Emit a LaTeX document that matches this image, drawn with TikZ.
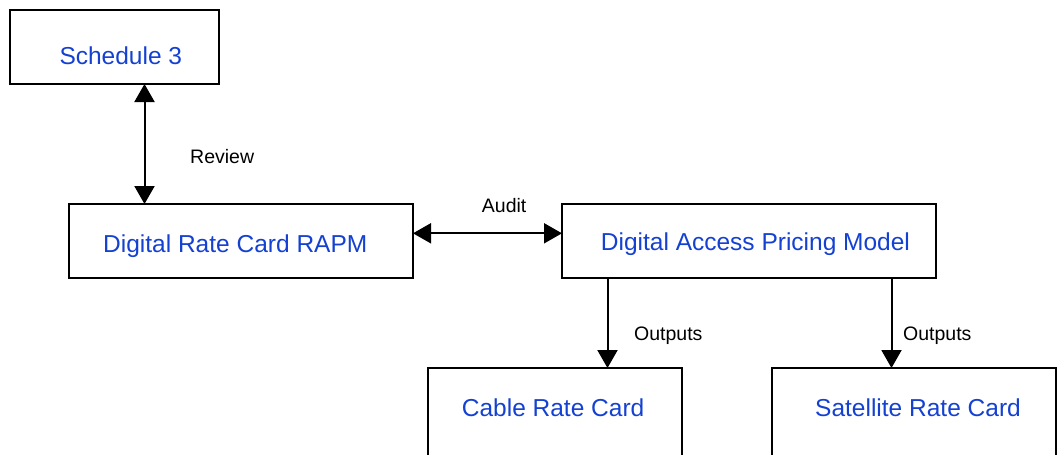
\documentclass[tikz,border=0pt]{standalone}
\usepackage{fontspec}
\setmainfont{Liberation Sans}
\usetikzlibrary{arrows.meta}
\definecolor{boxtext}{RGB}{20,65,210}
\tikzset{
  box/.style={draw=black, line width=1.8pt, fill=none, inner sep=0pt, outer sep=0pt},
  boxlabel/.style={anchor=base west, inner sep=0pt, text=boxtext, font=\fontsize{24.5}{28}\selectfont},
  linklabel/.style={anchor=base west, inner sep=0pt, text=black, font=\fontsize{19.5}{23}\selectfont},
  link/.style={line width=2pt, -{Triangle[length=18pt,width=20pt]}},
  duallink/.style={line width=2pt, {Triangle[length=18pt,width=20pt]}-{Triangle[length=18pt,width=20pt]}}
}
\begin{document}
\begin{tikzpicture}[x=1pt,y=-1pt]
\clip (0,0) rectangle (1058,455);
\fill[white] (0,0) rectangle (1058,455);
% boxes
\node[box, minimum width=209pt, minimum height=74pt] (s3) at (114.5,47) {};
\node[box, minimum width=344pt, minimum height=74pt] (drc) at (241,241) {};
\node[box, minimum width=374pt, minimum height=74pt] (dapm) at (749,241) {};
\node[box, minimum width=254pt, minimum height=112pt] (cable) at (555,424) {};
\node[box, minimum width=284pt, minimum height=112pt] (sat) at (914,424) {};
% box texts
\node[boxlabel] (ts3) at (59.3,64.3) {Schedule 3};
\node[boxlabel] (tdrc) at (103,252) {Digital Rate Card RAPM};
\node[boxlabel] (tdapm) at (600.7,250) {Digital Access Pricing Model};
\node[boxlabel] (tcable) at (461.7,416.7) {Cable Rate Card};
\node[boxlabel] (tsat) at (815,416.7) {Satellite Rate Card};
% connectors
\draw[duallink] ([xshift=30pt]s3.south) -- ([xshift=30pt]s3.south |- drc.north);
\draw[duallink] ([yshift=7.7pt]drc.east) -- ([yshift=7.7pt]drc.east -| dapm.west);
\draw[link] ([xshift=-141.5pt]dapm.south) -- ([xshift=-141.5pt]dapm.south |- cable.north);
\draw[link] ([xshift=142.5pt]dapm.south) -- ([xshift=142.5pt]dapm.south |- sat.north);
% connector labels
\node[linklabel] (lreview) at (190,163) {Review};
\node[linklabel] (laudit) at (481.7,212.7) {Audit};
\node[linklabel] (lout1) at (634,340) {Outputs};
\node[linklabel] (lout2) at (903,340) {Outputs};
\end{tikzpicture}
\end{document}
